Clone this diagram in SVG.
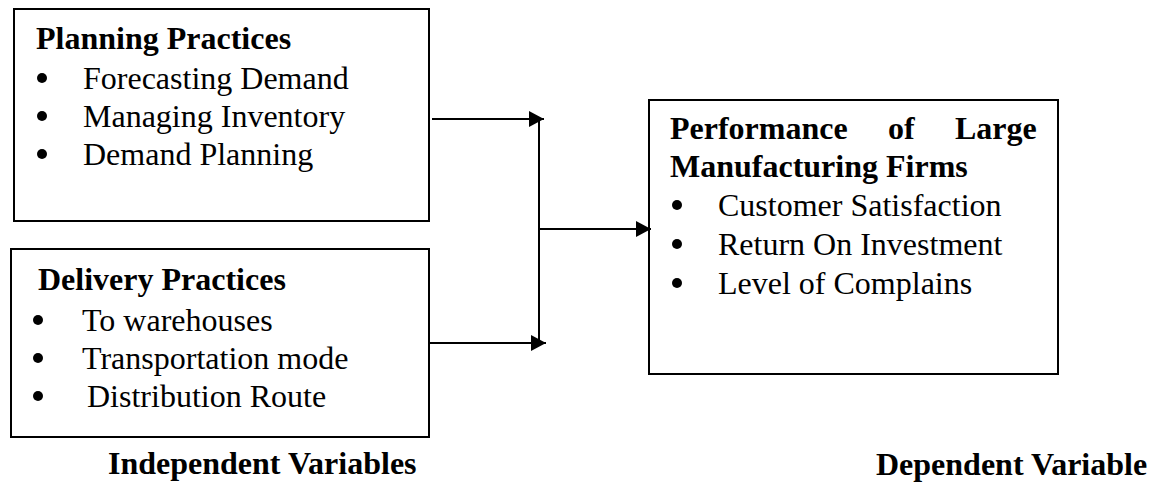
<svg xmlns="http://www.w3.org/2000/svg" width="1152" height="485" viewBox="0 0 1152 485">
<style>
.box{fill:#fff;stroke:#000;stroke-width:2}
.t{font-family:"Liberation Serif","Times New Roman",serif;font-size:32px;fill:#000}
.b{font-weight:bold}
.bul{fill:#000}
.con{stroke:#000;stroke-width:2;fill:none}
</style>
<defs>
<marker id="ah" markerUnits="userSpaceOnUse" markerWidth="16" markerHeight="16" refX="15" refY="8" orient="auto">
<path d="M0,0 L15,8 L0,16 Z" fill="#000"/>
</marker>
</defs>
<rect width="1152" height="485" fill="#fff"/>
<g id="planning">
<rect class="box" x="14" y="9" width="415" height="212"/>
<text class="t b" x="36" y="49">Planning Practices</text>
<circle class="bul" cx="42" cy="78" r="5"/>
<text class="t" x="83" y="89">Forecasting Demand</text>
<circle class="bul" cx="42" cy="116" r="5"/>
<text class="t" x="83" y="127">Managing Inventory</text>
<circle class="bul" cx="42" cy="154" r="5"/>
<text class="t" x="83" y="165">Demand Planning</text>
</g>
<g id="delivery">
<rect class="box" x="11" y="249" width="418" height="188"/>
<text class="t b" x="38" y="290">Delivery Practices</text>
<circle class="bul" cx="38" cy="320" r="5"/>
<text class="t" x="82" y="331">To warehouses</text>
<circle class="bul" cx="38" cy="358" r="5"/>
<text class="t" x="82" y="369">Transportation mode</text>
<circle class="bul" cx="38" cy="396" r="5"/>
<text class="t" x="87" y="407">Distribution Route</text>
</g>
<g id="performance">
<rect class="box" x="649" y="100" width="409" height="274"/>
<text class="t b" y="139"><tspan x="670">Performance</tspan><tspan x="888">of</tspan><tspan x="955">Large</tspan></text>
<text class="t b" x="670" y="177">Manufacturing Firms</text>
<circle class="bul" cx="677" cy="205" r="5"/>
<text class="t" x="718" y="216">Customer Satisfaction</text>
<circle class="bul" cx="677" cy="244" r="5"/>
<text class="t" x="718" y="255">Return On Investment</text>
<circle class="bul" cx="677" cy="283" r="5"/>
<text class="t" x="718" y="294">Level of Complains</text>
</g>
<g id="labels">
<text class="t b" x="108" y="474">Independent Variables</text>
<text class="t b" x="876" y="475">Dependent Variable</text>
</g>
<g id="connectors">
<line class="con" x1="432" y1="119" x2="544" y2="119" marker-end="url(#ah)"/>
<line class="con" x1="429" y1="343" x2="546" y2="343" marker-end="url(#ah)"/>
<line class="con" x1="539" y1="120" x2="539" y2="343"/>
<line class="con" x1="539" y1="229" x2="651" y2="229" marker-end="url(#ah)"/>
</g>
</svg>
